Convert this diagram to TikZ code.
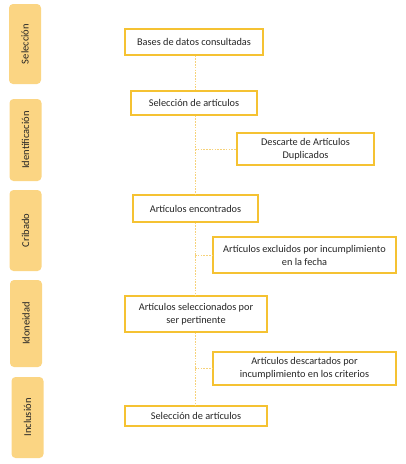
\documentclass[tikz,border=0pt]{standalone}
\usepackage{fontspec}
\setmainfont{Carlito}
\usepackage{tikz}
\usetikzlibrary{positioning,calc}
\definecolor{stage}{HTML}{FBD583}
\definecolor{frame}{HTML}{F5C232}
\definecolor{trail}{HTML}{F6D27A}
\definecolor{ink}{HTML}{262626}

\begin{document}
\begin{tikzpicture}[
  x=1pt,y=-1pt,
  tag/.style={fill=stage,rounded corners=4pt,rotate=90,minimum height=32pt,
              inner sep=0pt,font=\fontsize{10.5}{12}\selectfont,text=ink},
  box/.style={draw=frame,line width=1.1pt,fill=white,align=center,inner sep=2pt,
              font=\fontsize{10.3}{13}\selectfont,text=ink},
  link/.style={draw=trail,line width=0.8pt,dash pattern=on 1.6pt off 1.2pt}
]
\useasboundingbox (0,0) rectangle (405,464);
% stages on the left
\node[tag,minimum width=80pt] (selec) at (25,44) {Selección};
\node[tag,minimum width=82pt] (ident) at (25.5,140) {Identificación};
\node[tag,minimum width=81pt] (crib) at (25.5,230.5) {Cribado};
\node[tag,minimum width=87pt] (idon) at (26,323.5) {Idoneidad};
\node[tag,minimum width=81pt] (incl) at (27.5,417.5) {Inclusión};
% main column
\node[box,minimum width=138pt,minimum height=26pt] (bases) at (194,42) {Bases de datos consultadas};
\node[box,minimum width=126pt,minimum height=24pt] (sel1) at (194,103) {Selección de artículos};
\node[box,minimum width=125pt,minimum height=27pt] (enc) at (195.5,208.5) {Artículos encontrados};
\node[box,minimum width=142pt,minimum height=36pt] (pert) at (196,314) {Artículos seleccionados por\\ser pertinente};
\node[box,minimum width=142pt,minimum height=20pt] (sel2) at (196,416) {Selección de artículos};
% side boxes
\node[box,minimum width=137pt,minimum height=32pt] (dup) at (305.5,149) {Descarte de Artículos\\Duplicados};
\node[box,minimum width=183pt,minimum height=36pt] (excl) at (304.5,255) {Artículos excluidos por incumplimiento\\en la fecha};
\node[box,minimum width=183pt,minimum height=33pt] (desc) at (304.5,368.5) {Artículos descartados por\\incumplimiento en los criterios};
% dashed links
\coordinate (spine) at (195,0);
\draw[link] (spine |- bases.south) -- (spine |- sel1.north);
\draw[link] (spine |- sel1.south) -- (spine |- enc.north);
\draw[link] (spine |- enc.south) -- (spine |- pert.north);
\draw[link] (spine |- pert.south) -- (spine |- sel2.north);
\draw[link] (spine |- dup.west) -- (dup.west);
\draw[link] (spine |- excl.west) -- (excl.west);
\draw[link] (spine |- desc.west) -- (desc.west);
\end{tikzpicture}
\end{document}
